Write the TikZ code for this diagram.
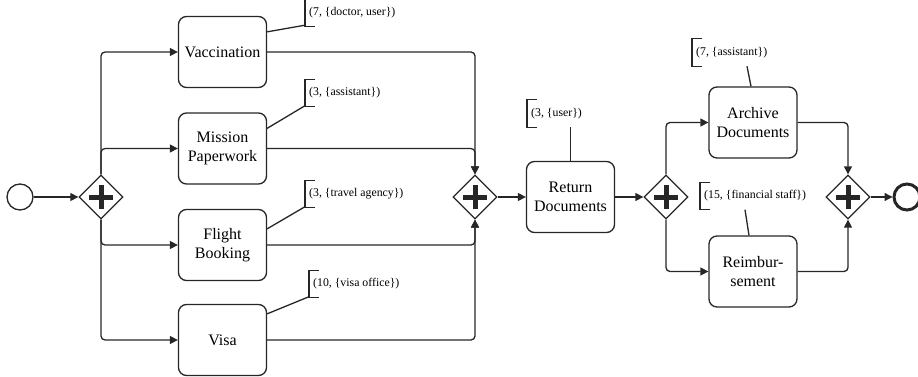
\documentclass[tikz,border=0pt]{standalone}
\usepackage{fontspec}
\setmainfont{Liberation Serif}
\usepackage{xcolor}
\definecolor{inkgray}{rgb}{0.15,0.15,0.15}
\usetikzlibrary{shapes.geometric,arrows.meta}

\begin{document}
\begin{tikzpicture}[x=1pt,y=-1pt,
        task/.style={draw=inkgray,line width=1.3pt,rounded corners=8pt,minimum width=88pt,minimum height=71pt,align=center,font=\rmfamily\fontsize{16}{18.5}\selectfont},
        gate/.style={diamond,draw=inkgray,line width=1.3pt,minimum size=44pt,inner sep=0pt,path picture={\draw[inkgray,line width=5pt] (path picture bounding box.center) +(-12pt,0) -- +(12pt,0) (path picture bounding box.center) +(0,-12pt) -- +(0,12pt);}},
        flow/.style={draw=inkgray,line width=1.3pt,rounded corners=4pt,-{Triangle[length=8pt,width=8pt]}},
        annot/.style={anchor=west,minimum height=27pt,inner xsep=4pt,inner ysep=0pt,font=\rmfamily\fontsize{11.8}{13}\selectfont},
        bracket/.style={draw=inkgray,line width=1.3pt},
        assoc/.style={draw=inkgray,line width=1.3pt}]
        \clip (0,0) rectangle (918,377);
        \node[circle,draw=inkgray,line width=1.3pt,minimum size=26pt,inner sep=0pt] (start) at (20,197) {};
        \node[gate] (g1) at (101,197) {};
        \node[task] (vacc) at (222.5,52) {Vaccination};
        \node[task] (miss) at (222.5,148.5) {Mission\\Paperwork};
        \node[task] (flight) at (222.5,245) {Flight\\Booking};
        \node[task] (visa) at (222.5,340) {Visa};
        \node[gate] (g2) at (475,197) {};
        \node[task] (ret) at (570.5,197) {Return\\Documents};
        \node[gate] (g3) at (666,197) {};
        \node[task] (arch) at (753,122.5) {Archive\\Documents};
        \node[task] (reimb) at (753,271.5) {Reimbur-\\sement};
        \node[gate] (g4) at (848,197) {};
        \node[circle,draw=inkgray,line width=3pt,minimum size=26pt,inner sep=0pt] (end) at (907,197) {};

        \node[annot] (avacc) at (305,12.5) {(7, \{doctor, user\})};
        \node[annot] (amiss) at (305,93) {(3, \{assistant\})};
        \node[annot] (aflight) at (305,194) {(3, \{travel agency\})};
        \node[annot] (avisa) at (309,284) {(10, \{visa office\})};
        \node[annot] (aret) at (527,113.5) {(3, \{user\})};
        \node[annot] (aarch) at (692,52.5) {(7, \{assistant\})};
        \node[annot] (areimb) at (700,196) {(15, \{financial staff\})};

        \draw[flow] (start) -- (g1);
        \draw[flow] (g1.north) |- (vacc.west);
        \draw[flow] (g1.north) |- (miss.west);
        \draw[flow] (g1.south) |- (flight.west);
        \draw[flow] (g1.south) |- (visa.west);
        \draw[flow] (vacc.east) -| (g2.north);
        \draw[flow] (miss.east) -| (g2.north);
        \draw[flow] (flight.east) -| (g2.south);
        \draw[flow] (visa.east) -| (g2.south);
        \draw[flow] (g2) -- (ret);
        \draw[flow] (ret) -- (g3);
        \draw[flow] (g3.north) |- (arch.west);
        \draw[flow] (g3.south) |- (reimb.west);
        \draw[flow] (arch.east) -| (g4.north);
        \draw[flow] (reimb.east) -| (g4.south);
        \draw[flow] (g4) -- (end);

        \draw[bracket] ([xshift=10pt]avacc.north west) -| (avacc.south west) -- ++(10pt,0);
        \draw[bracket] ([xshift=10pt]amiss.north west) -| (amiss.south west) -- ++(10pt,0);
        \draw[bracket] ([xshift=10pt]aflight.north west) -| (aflight.south west) -- ++(10pt,0);
        \draw[bracket] ([xshift=10pt]avisa.north west) -| (avisa.south west) -- ++(10pt,0);
        \draw[bracket] ([xshift=10pt]aret.north west) -| (aret.south west) -- ++(10pt,0);
        \draw[bracket] ([xshift=10pt]aarch.north west) -| (aarch.south west) -- ++(10pt,0);
        \draw[bracket] ([xshift=10pt]areimb.north west) -| (areimb.south west) -- ++(10pt,0);

        \draw[assoc] ([yshift=-16pt]vacc.north east) -- ([yshift=1pt]avacc.south west);
        \draw[assoc] ([yshift=-16pt]miss.north east) -- ([yshift=1pt]amiss.south west);
        \draw[assoc] ([yshift=-20pt]flight.north east) -- ([yshift=1pt]aflight.south west);
        \draw[assoc] ([yshift=-10pt]visa.north east) -- ([yshift=1pt]avisa.south west);
        \draw[assoc] (ret.north) -- (ret.north |- aret.south);
        \draw[assoc] ([xshift=-2pt]arch.north) -- ([xshift=-6pt]arch.north |- aarch.south);
        \draw[assoc] ([xshift=-4pt]reimb.north) -- ([xshift=-8pt]reimb.north |- areimb.south);
\end{tikzpicture}
\end{document}
